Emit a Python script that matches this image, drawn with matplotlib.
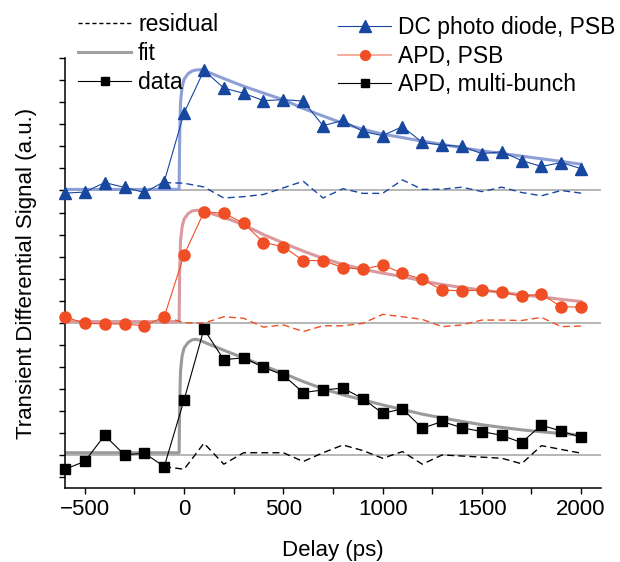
import matplotlib
matplotlib.use("Agg")
import matplotlib.pyplot as plt
from matplotlib.lines import Line2D
from matplotlib.ticker import MultipleLocator

plt.rcParams["font.family"] = ["Liberation Sans", "DejaVu Sans"]

# delay points (ps)
delay = [-600, -500, -400, -300, -200, -100, 0, 100, 200, 300, 400, 500, 600, 700,
         800, 900, 1000, 1100, 1200, 1300, 1400, 1500, 1600, 1700, 1800, 1900, 2000]

# measured signals (a.u., relative to each trace's own baseline)
dc_psb = [-0.12, -0.07, 0.36, 0.14, -0.09, 0.40, 3.52, 5.45, 4.65, 4.41, 4.08, 4.12, 4.06, 2.94,
          3.18, 2.68, 2.49, 2.90, 2.18, 2.06, 2.00, 1.67, 1.76, 1.36, 1.09, 1.27, 0.99]
apd_psb = [0.27, -0.03, -0.05, -0.06, -0.14, 0.27, 3.08, 5.02, 4.97, 4.52, 3.64, 3.45, 2.82, 2.82,
           2.50, 2.42, 2.62, 2.24, 1.97, 1.48, 1.45, 1.48, 1.38, 1.21, 1.29, 0.73, 0.70]
apd_mb = [-0.65, -0.29, 0.89, 0.00, 0.08, -0.53, 2.50, 5.71, 4.32, 4.41, 3.98, 3.62, 2.83, 2.95,
          3.03, 2.56, 1.89, 2.09, 1.21, 1.52, 1.23, 1.06, 0.89, 0.56, 1.35, 1.08, 0.80]

# fitted curves
fit_t = [-600, -25, -22, -18, -10, 0, 20, 40, 60, 80, 100, 200, 300, 400, 500, 600, 700,
         800, 900, 1000, 1100, 1200, 1300, 1400, 1500, 1600, 1700, 1800, 1900, 2000]
fit_dc = [0.05, 0.05, 2.5, 4.0, 4.7, 5.05, 5.3, 5.42, 5.47, 5.48, 5.45, 5.08, 4.73, 4.42, 4.12,
          3.72, 3.38, 3.05, 2.78, 2.56, 2.40, 2.24, 2.09, 1.94, 1.80, 1.68, 1.56, 1.44, 1.32, 1.19]
fit_apd = [0.05, 0.05, 2.4, 3.7, 4.35, 4.7, 4.95, 5.07, 5.1, 5.1, 5.05, 4.78, 4.45, 4.0, 3.62,
           3.25, 2.92, 2.65, 2.43, 2.25, 2.09, 1.90, 1.73, 1.60, 1.48, 1.37, 1.27, 1.17, 1.06, 0.96]
fit_mb = [0.1, 0.1, 2.4, 3.8, 4.5, 4.85, 5.1, 5.22, 5.25, 5.2, 5.12, 4.75, 4.40, 4.05, 3.70,
          3.33, 3.00, 2.73, 2.50, 2.27, 2.06, 1.85, 1.68, 1.52, 1.37, 1.25, 1.14, 1.05, 0.97, 0.90]

# residuals (from -100 ps on)
res_t = delay[5:]
res_dc = [0.36, 0.33, 0.16, -0.34, -0.28, -0.18, 0.12, 0.42, -0.34, 0.08, -0.13, -0.13, 0.48,
          0.05, 0.06, 0.15, -0.05, 0.15, -0.09, -0.24, 0.0, -0.12]
res_apd = [0.27, 0.0, -0.02, 0.27, 0.2, -0.2, -0.1, -0.4, -0.14, -0.14, -0.03, 0.38, 0.27,
           0.15, -0.18, -0.1, 0.12, 0.12, 0.1, 0.24, -0.18, -0.15]
res_mb = [-0.53, -0.65, 0.53, -0.42, 0.1, 0.1, 0.1, -0.3, 0.1, 0.45, 0.2, -0.15, 0.15,
          -0.42, 0.0, -0.05, -0.1, -0.15, -0.4, 0.42, 0.25, 0.08]

BLUE, BLUE_FIT = "#17479f", "#8d9fd6"
RED, RED_FIT = "#f04e24", "#d9999f"
BLACK, BLACK_FIT = "black", "#9a9a9a"

fig = plt.figure(figsize=(6.2, 5.62), dpi=100)
ax = fig.add_axes([0.1048, 0.1317, 0.8645, 0.7646])

traces = [
    (dc_psb, fit_dc, res_dc, 12, BLUE, BLUE_FIT, "^", 9),
    (apd_psb, fit_apd, res_apd, 6, RED, RED_FIT, "o", 8),
    (apd_mb, fit_mb, res_mb, 0, BLACK, BLACK_FIT, "s", 7),
]

for data, fit, res, off, col, fcol, mk, ms in traces:
    ax.axhline(off, color="#aaaaaa", lw=1.2, zorder=1)
    ax.plot(fit_t, [v + off for v in fit], color=fcol, lw=2.2, zorder=2)
    ax.plot(res_t, [v + off for v in res], color=col, lw=1.0, ls=(0, (5, 3)), zorder=3)
    ax.plot(delay, [v + off for v in data], color=col, lw=0.8, marker=mk, ms=ms,
            zorder=4, clip_on=False)

ax.set_xlim(-600, 2100)
ax.set_ylim(-1.5, 18)
ax.set_xticks([-500, 0, 500, 1000, 1500, 2000])
ax.xaxis.set_minor_locator(MultipleLocator(250))
ax.set_yticks(range(-1, 19))
ax.set_yticklabels([])
ax.tick_params(axis="both", which="both", direction="out", length=4, width=1, labelsize=16)
ax.tick_params(axis="x", pad=4)
for s in ["top", "right"]:
    ax.spines[s].set_visible(False)
for s in ["left", "bottom"]:
    ax.spines[s].set_linewidth(1.1)

ax.set_xlabel("Delay (ps)", fontsize=16, labelpad=14)
ax.set_ylabel("Transient Differential Signal (a.u.)", fontsize=16, labelpad=13)

left_handles = [
    Line2D([], [], color="black", lw=1.0, ls=(0, (3, 2))),
    Line2D([], [], color="#a0a0a0", lw=2.2),
    Line2D([], [], color="black", lw=0.8, marker="s", ms=6),
]
fig.legend(left_handles, ["residual", "fit", "data"], loc="upper left",
           bbox_to_anchor=(0.108, 0.997), frameon=False, fontsize=16.5,
           handlelength=2.3, handletextpad=0.3, labelspacing=0.25, borderpad=0)

right_handles = [
    Line2D([], [], color=BLUE, lw=0.8, marker="^", ms=8),
    Line2D([], [], color="#f2a08c", lw=1.2, marker="o", markerfacecolor=RED,
           markeredgecolor=RED, ms=7),
    Line2D([], [], color="black", lw=0.8, marker="s", ms=6),
]
fig.legend(right_handles, ["DC photo diode, PSB", "APD, PSB", "APD, multi-bunch"],
           loc="upper left", bbox_to_anchor=(0.527, 0.992), frameon=False, fontsize=16.5,
           handlelength=2.3, handletextpad=0.3, labelspacing=0.25, borderpad=0)

fig.savefig("out.png", dpi=100)
